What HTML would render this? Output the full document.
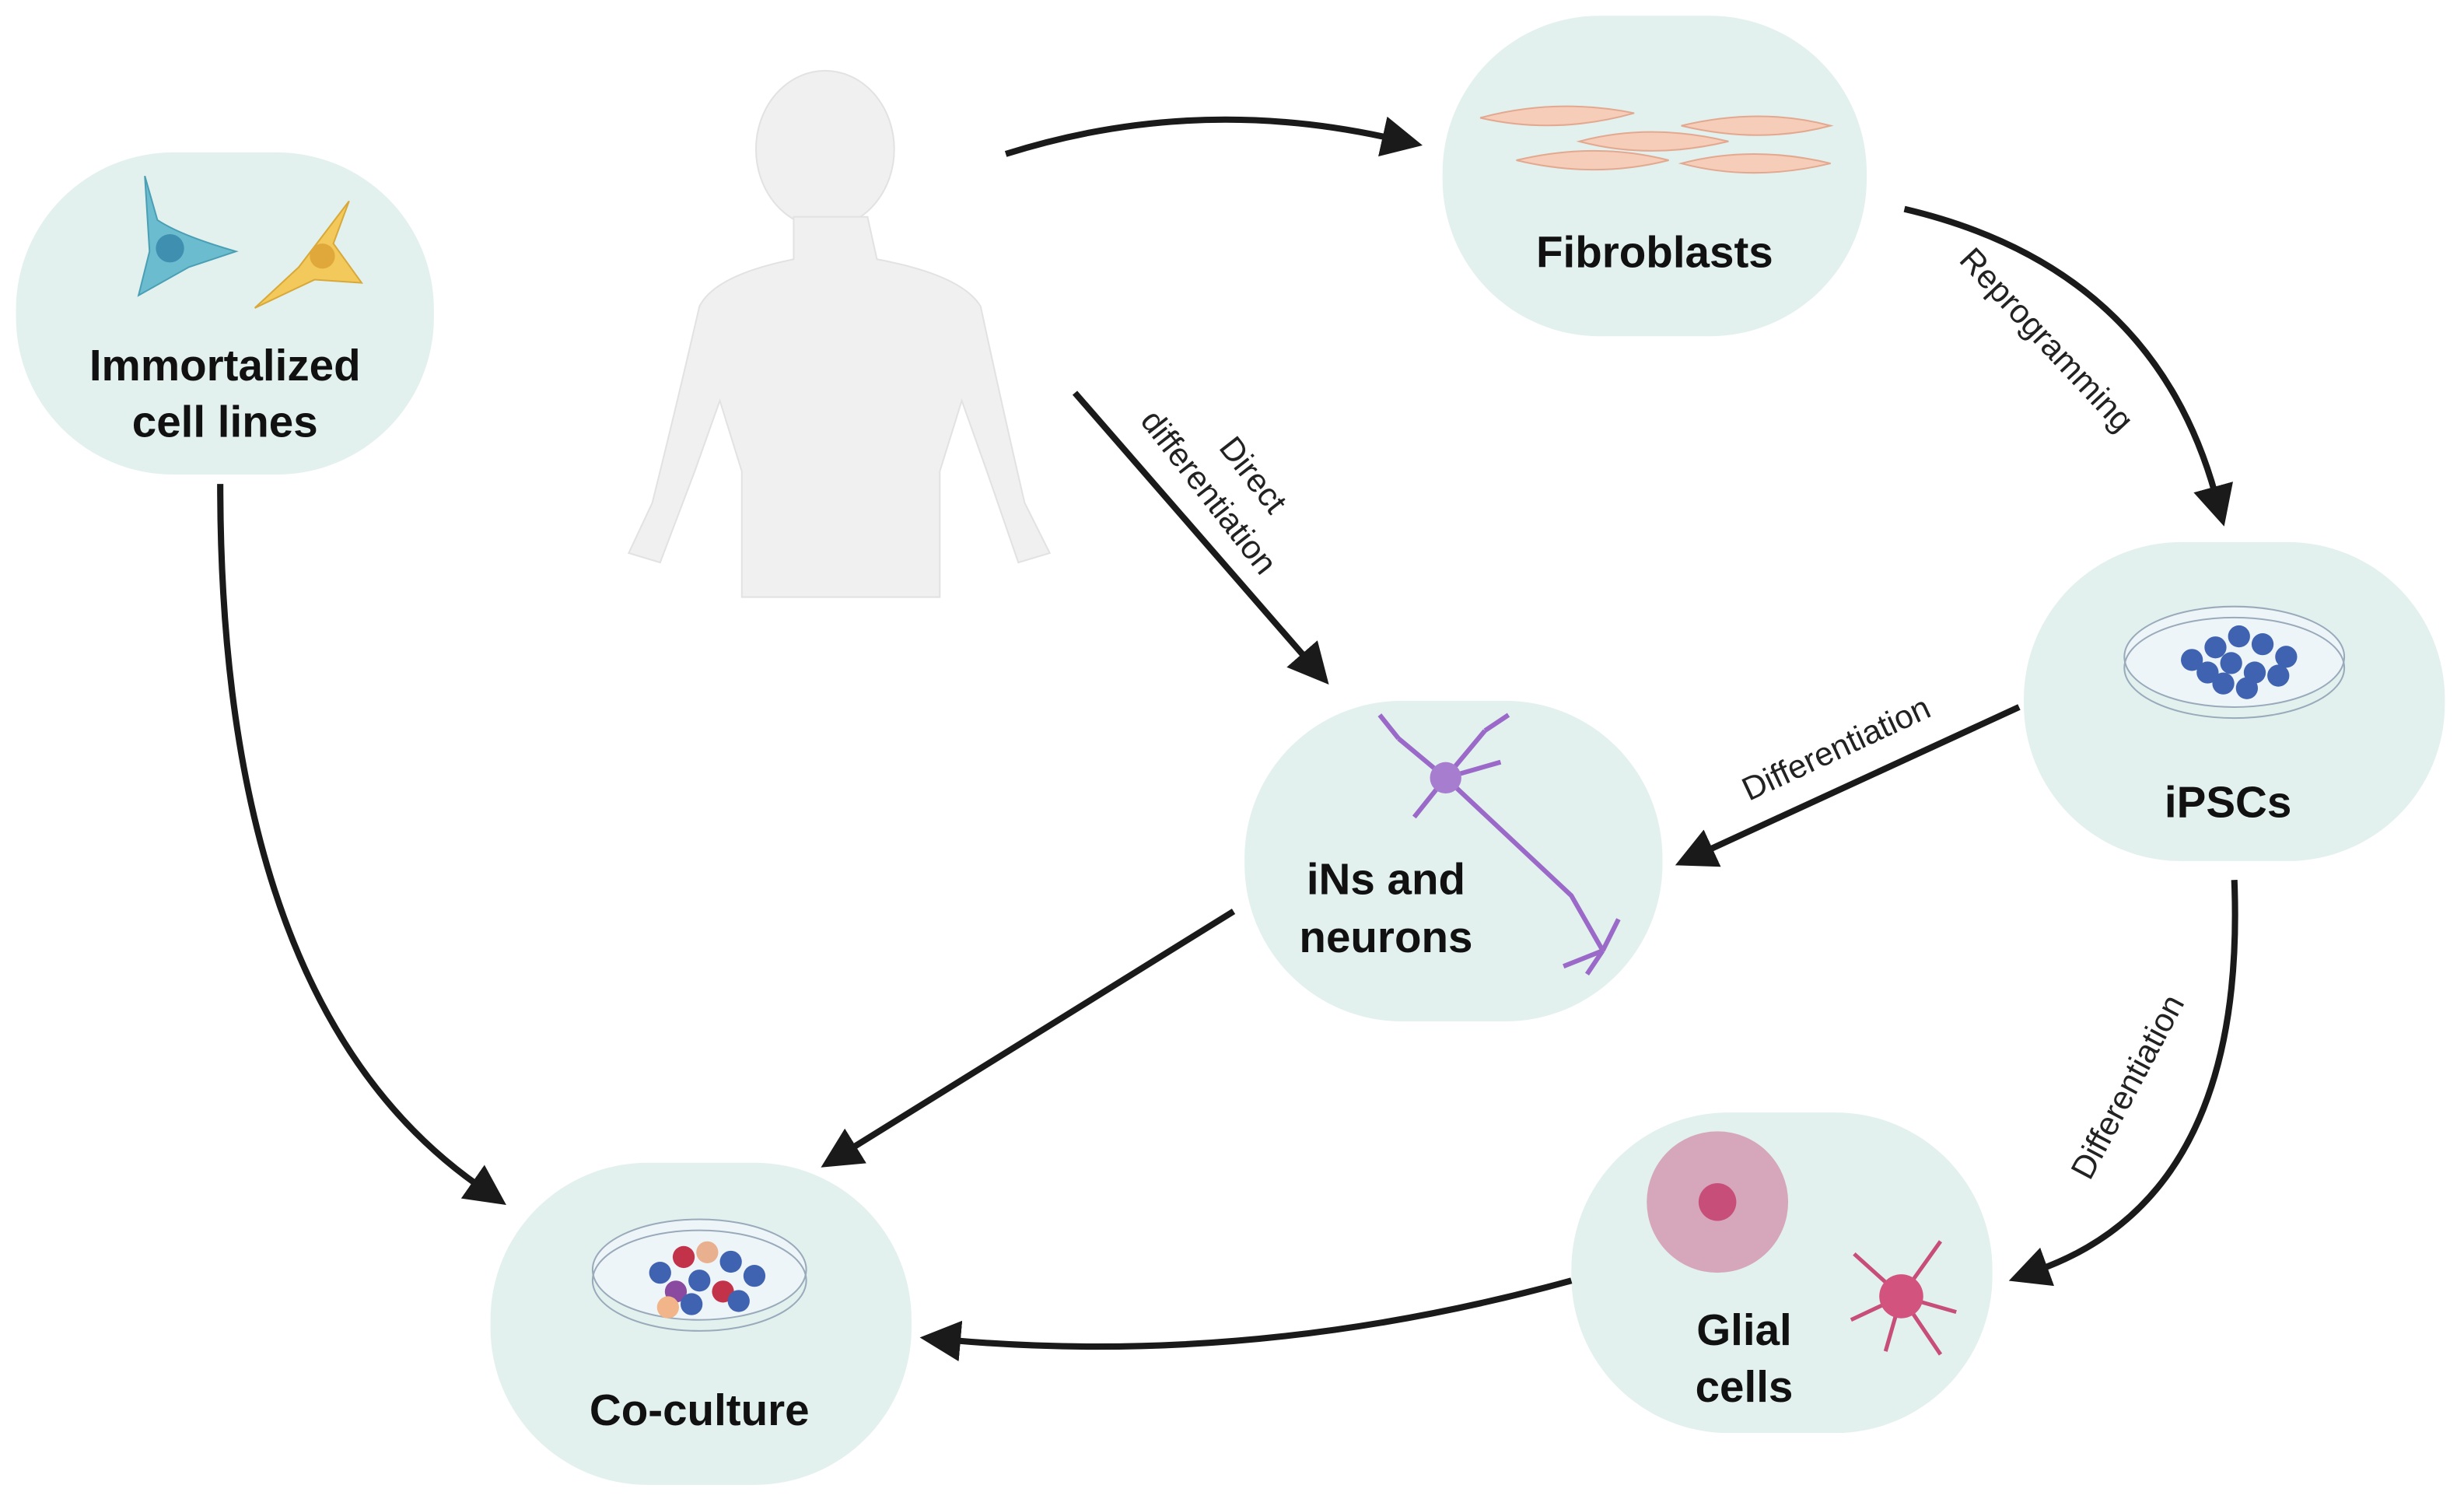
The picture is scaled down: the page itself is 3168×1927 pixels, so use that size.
<!DOCTYPE html>
<html><head><meta charset="utf-8"><style>
html,body{margin:0;padding:0;background:#fff;width:3168px;height:1927px;overflow:hidden}
svg{display:block}
.lbl{font-family:"Liberation Sans",sans-serif;font-weight:bold;font-size:28px;fill:#111;text-anchor:middle}
.sm{font-family:"Liberation Sans",sans-serif;font-size:21px;fill:#222}
</style></head><body>
<svg width="3168" height="1927" viewBox="0 0 1568 954" xmlns="http://www.w3.org/2000/svg">
<defs>
<marker id="ah" viewBox="0 0 10 10" refX="2" refY="5" markerWidth="6.5" markerHeight="6.5" orient="auto" markerUnits="strokeWidth">
<path d="M0,0 L10,5 L0,10 z" fill="#1a1a1a"/></marker>
</defs>
<g fill="#e2f1ee">
<rect x="10" y="97" width="266" height="205" rx="100"/>
<rect x="918" y="10" width="270" height="204" rx="100"/>
<rect x="1288" y="345" width="268" height="203" rx="100"/>
<rect x="792" y="446" width="266" height="204" rx="100"/>
<rect x="1000" y="708" width="268" height="204" rx="100"/>
<rect x="312" y="740" width="268" height="205" rx="100"/>
</g>
<!-- human silhouette -->
<g fill="#f0f0f0" stroke="#e2e2e2" stroke-width="1">
<ellipse cx="525" cy="95" rx="44" ry="50"/>
<path d="M505,138 L505,165 Q455,175 445,195 Q430,260 415,320 L400,352 L420,358 L442,300 L458,255 L472,300 L472,380 L598,380 L598,300 L612,255 L628,300 L648,358 L668,352 L652,320 Q638,260 624,195 Q612,175 558,165 L552,138 Z"/>
</g>
<!-- immortalized cells -->
<path d="M92,112 L100,140 Q115,150 150,160 L120,170 L88,188 L95,160 Z" fill="#6cbccf" stroke="#4a9fb4"/>
<circle cx="108" cy="158" r="9" fill="#3e8fb0"/>
<path d="M222,128 L212,155 L230,180 L200,178 L162,196 L190,170 Z" fill="#f2c95a" stroke="#d8a93a"/>
<circle cx="205" cy="163" r="8" fill="#e0a83a"/>
<!-- fibroblasts -->
<g fill="#f6cdb9" stroke="#e3a890">
<path d="M942,75 Q990,62 1040,72 Q990,86 942,75Z"/>
<path d="M1070,80 Q1120,68 1165,80 Q1120,92 1070,80Z"/>
<path d="M1005,90 Q1050,78 1100,90 Q1050,102 1005,90Z"/>
<path d="M965,102 Q1015,90 1062,102 Q1015,114 965,102Z"/>
<path d="M1070,104 Q1115,92 1165,104 Q1115,116 1070,104Z"/>
</g>
<!-- dishes -->
<g>
<ellipse cx="1422" cy="418" rx="70" ry="32" fill="#eef5f8" stroke="#9ab"/>
<ellipse cx="1422" cy="425" rx="70" ry="32" fill="none" stroke="#9ab"/>
<g fill="#3f63b0"><circle cx="1395" cy="420" r="7"/><circle cx="1410" cy="412" r="7"/><circle cx="1425" cy="405" r="7"/><circle cx="1440" cy="410" r="7"/><circle cx="1455" cy="418" r="7"/><circle cx="1405" cy="428" r="7"/><circle cx="1420" cy="422" r="7"/><circle cx="1435" cy="428" r="7"/><circle cx="1450" cy="430" r="7"/><circle cx="1415" cy="435" r="7"/><circle cx="1430" cy="438" r="7"/></g>
<ellipse cx="445" cy="808" rx="68" ry="32" fill="#eef5f8" stroke="#9ab"/>
<ellipse cx="445" cy="815" rx="68" ry="32" fill="none" stroke="#9ab"/>
<g><circle cx="420" cy="810" r="7" fill="#3f63b0"/><circle cx="435" cy="800" r="7" fill="#c2334a"/><circle cx="450" cy="797" r="7" fill="#e9b08f"/><circle cx="465" cy="803" r="7" fill="#3f63b0"/><circle cx="480" cy="812" r="7" fill="#3f63b0"/><circle cx="430" cy="822" r="7" fill="#8a4aa0"/><circle cx="445" cy="815" r="7" fill="#3f63b0"/><circle cx="460" cy="822" r="7" fill="#c2334a"/><circle cx="440" cy="830" r="7" fill="#3f63b0"/><circle cx="425" cy="832" r="7" fill="#f2b58a"/><circle cx="470" cy="828" r="7" fill="#3f63b0"/></g>
</g>
<!-- neuron -->
<g stroke="#9b6ac9" stroke-width="3" fill="none">
<path d="M920,495 L1000,570 L1020,605"/>
<path d="M920,495 L890,470 M920,495 L900,520 M920,495 L945,465 M920,495 L955,485 M890,470 L878,455 M945,465 L960,455"/>
<path d="M1020,605 L995,615 M1020,605 L1030,585 M1020,605 L1010,620"/>
</g>
<circle cx="920" cy="495" r="10" fill="#a77dd0"/>
<!-- glia -->
<circle cx="1093" cy="765" r="45" fill="#c84e7a" opacity="0.45"/>
<circle cx="1093" cy="765" r="12" fill="#c84e7a"/>
<g stroke="#c84e7a" stroke-width="2.5" fill="none"><path d="M1210,825 L1180,798 M1210,825 L1235,790 M1210,825 L1245,835 M1210,825 L1200,860 M1210,825 L1235,862 M1210,825 L1178,840"/></g>
<circle cx="1210" cy="825" r="14" fill="#d2537e"/>
<!-- labels -->
<text class="lbl" x="143" y="242">Immortalized</text>
<text class="lbl" x="143" y="278">cell lines</text>
<text class="lbl" x="1053" y="170">Fibroblasts</text>
<text class="lbl" x="1418" y="520">iPSCs</text>
<text class="lbl" x="882" y="569">iNs and</text>
<text class="lbl" x="882" y="606">neurons</text>
<text class="lbl" x="1110" y="856">Glial</text>
<text class="lbl" x="1110" y="892">cells</text>
<text class="lbl" x="445" y="907">Co-culture</text>
<text class="sm" transform="translate(1246,166) rotate(47)">Reprogramming</text>
<text class="sm" transform="translate(1113,510) rotate(-25)">Differentiation</text>
<text class="sm" transform="translate(1330,752) rotate(-62)">Differentiation</text>
<text class="sm" transform="translate(775,285) rotate(52)">Direct</text>
<text class="sm" transform="translate(725,268) rotate(52)">differentiation</text>
<!-- arrows -->
<g stroke="#1a1a1a" stroke-width="4" fill="none" marker-end="url(#ah)">
<path d="M640,98 Q760,60 885,88"/>
<path d="M1212,133 Q1370,170 1410,315"/>
<path d="M684,250 L832,420"/>
<path d="M1285,450 L1085,542"/>
<path d="M1422,560 Q1430,760 1298,808"/>
<path d="M785,580 L540,732"/>
<path d="M140,308 Q140,640 305,755"/>
<path d="M1000,815 Q800,870 606,853"/>
</g>
</svg>
</body></html>
